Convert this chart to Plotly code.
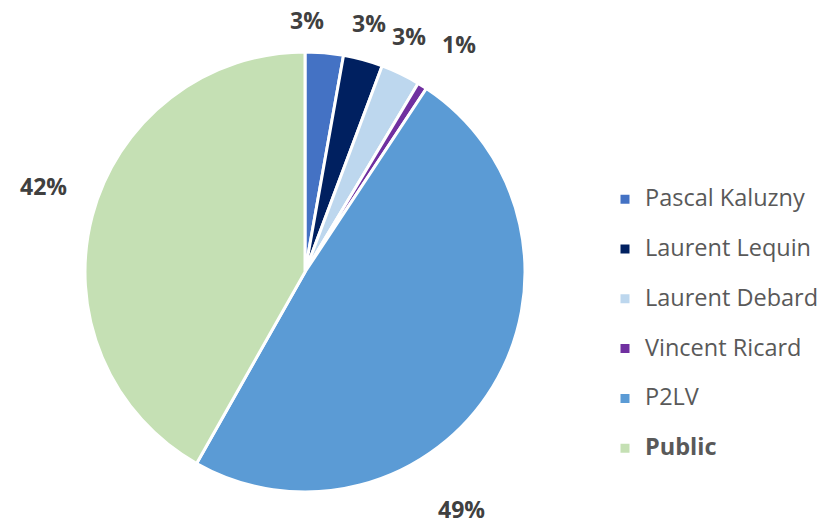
import plotly.graph_objects as go

# ---- data ----
names = ["Pascal Kaluzny", "Laurent Lequin", "Laurent Debard", "Vincent Ricard", "P2LV", "Public"]
shares = [2.8, 2.9, 2.9, 0.7, 48.9, 41.8]
colors = ["#4472C4", "#002060", "#BDD7EE", "#7030A0", "#5B9BD5", "#C5E0B4"]
bold_legend = [False, False, False, False, False, True]

# ---- layout constants ----
W, H = 838, 525
pie_left, pie_right, pie_top, pie_bottom = 85, 525, 52, 492
# label anchor positions (pixels) for the percentage texts
label_px = [(307, 20), (369, 23), (409, 36), (459, 44), (461, 509), (43, 186)]

total = sum(shares)
legend_labels = []
for n, b in zip(names, bold_legend):
    t = f"<b>{n}</b>" if b else n
    legend_labels.append(f'<span style="font-size:23.5px">{t}</span><br> ')

fig = go.Figure(go.Pie(
    labels=legend_labels,
    values=shares,
    sort=False,
    direction="clockwise",
    rotation=0,
    marker=dict(colors=colors, line=dict(color="white", width=3)),
    textinfo="none",
    hoverinfo="label+percent",
    domain=dict(x=[pie_left / W, pie_right / W], y=[(H - pie_bottom) / H, (H - pie_top) / H]),
))

annotations = []
for v, (px, py) in zip(shares, label_px):
    annotations.append(dict(
        x=px / W, y=1 - py / H, xref="paper", yref="paper",
        text=f"<b>{round(v / total * 100):.0f}%</b>",
        showarrow=False, xanchor="center", yanchor="middle",
        font=dict(family="Open Sans", size=23, color="#404040"),
    ))

fig.update_layout(
    width=W, height=H,
    margin=dict(l=0, r=0, t=0, b=0),
    paper_bgcolor="white", plot_bgcolor="white",
    font=dict(family="Open Sans", color="#595959"),
    annotations=annotations,
    showlegend=True,
    legend=dict(
        x=605 / W, y=1 - 181 / H, xanchor="left", yanchor="top",
        font=dict(family="Open Sans", size=18, color="#595959"),
        valign="top", bgcolor="rgba(0,0,0,0)",
    ),
)

fig.write_html("out.html", config={"displayModeBar": False},
               post_script="document.body.style.margin='0';")
